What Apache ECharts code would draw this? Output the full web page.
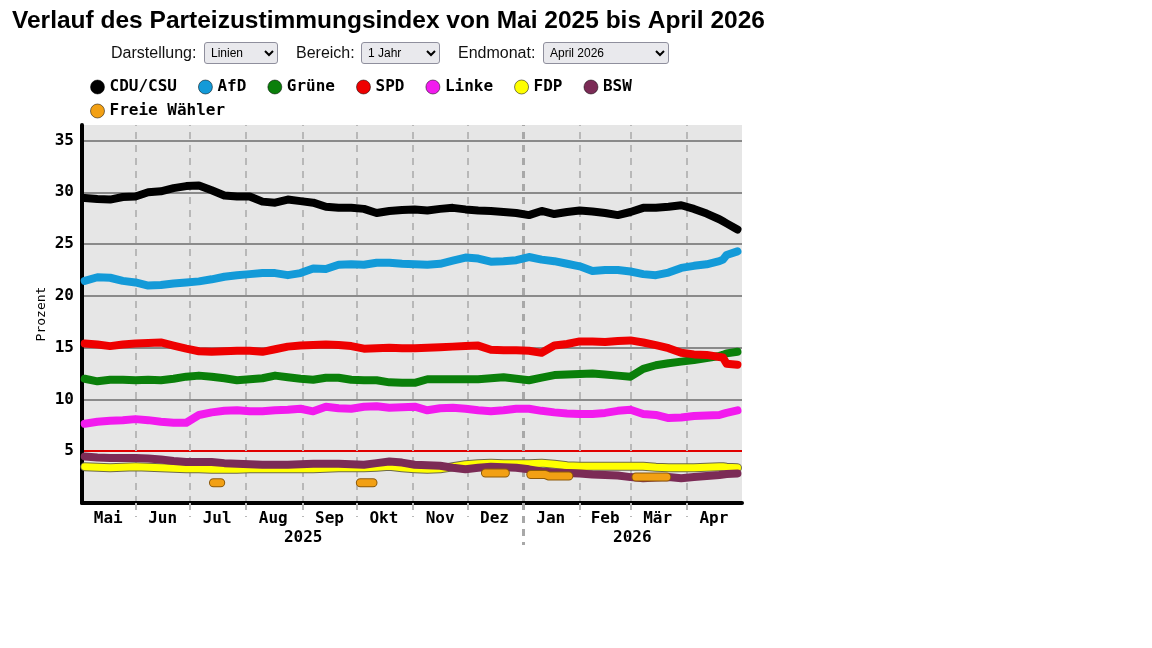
<!DOCTYPE html>
<html>
<head>
<meta charset="utf-8">
<script src="https://cdn.jsdelivr.net/npm/echarts@6/dist/echarts.min.js"></script>
<style>
  html, body { margin: 0; padding: 0; background: #fff; }
  #chart { position: absolute; left: 0; top: 0; width: 1152px; height: 648px; }
  .ctrl { position: absolute; top: 44px; height: 22px; line-height: 22px; z-index: 2;
          font: 16px 'Liberation Sans', Arial, sans-serif; color: #111; }
  select.ctrl { top: 42px; font: 12px 'Liberation Sans', Arial, sans-serif; padding: 0 2px; box-sizing: border-box;
                border: 1px solid #8f8f9d; border-radius: 3px; background: #e9e9ed; color: #000; }
</style>
</head>
<body>
<div id="chart"></div>
<span class="ctrl" style="left:111px">Darstellung:</span>
<select class="ctrl" style="left:204px;width:74px"><option>Linien</option></select>
<span class="ctrl" style="left:296px">Bereich:</span>
<select class="ctrl" style="left:361px;width:79px"><option>1 Jahr</option></select>
<span class="ctrl" style="left:458px">Endmonat:</span>
<select class="ctrl" style="left:543px;width:126px"><option>April 2026</option></select>
<script>
const dates = [
  '2025-05-04', '2025-05-11', '2025-05-18', '2025-05-25', '2025-06-01', '2025-06-08', '2025-06-15',
  '2025-06-22', '2025-06-29', '2025-07-06', '2025-07-13', '2025-07-20', '2025-07-27', '2025-08-03',
  '2025-08-10', '2025-08-17', '2025-08-24', '2025-08-31', '2025-09-07', '2025-09-14', '2025-09-21',
  '2025-09-28', '2025-10-05', '2025-10-12', '2025-10-19', '2025-10-26', '2025-11-02', '2025-11-09',
  '2025-11-16', '2025-11-23', '2025-11-30', '2025-12-07', '2025-12-14', '2025-12-21', '2025-12-28',
  '2026-01-04', '2026-01-11', '2026-01-18', '2026-01-25', '2026-02-01', '2026-02-08', '2026-02-15',
  '2026-02-22', '2026-03-01', '2026-03-08', '2026-03-15', '2026-03-22', '2026-03-29', '2026-04-05',
  '2026-04-12', '2026-04-19', '2026-04-21', '2026-04-23', '2026-04-29'
]

const cduCsu = [29.45, 29.35, 29.3, 29.55, 29.6, 30.0, 30.1, 30.4, 30.6, 30.65, 30.2, 29.7, 29.6, 29.6,
  29.1, 29.0, 29.3, 29.15, 29.0, 28.6, 28.5, 28.5, 28.4, 28.0, 28.2, 28.3, 28.35, 28.25, 28.4, 28.5,
  28.35, 28.25, 28.2, 28.1, 28.0, 27.8, 28.2, 27.9, 28.1, 28.25, 28.15, 28.0, 27.8, 28.1, 28.5, 28.5,
  28.6, 28.75, 28.4, 27.95, 27.4, 27.2, 27.0, 26.4]
const afd = [21.45, 21.8, 21.75, 21.45, 21.3, 21.0, 21.05, 21.2, 21.3, 21.4, 21.6, 21.85, 22.0, 22.1,
  22.2, 22.2, 22.0, 22.2, 22.65, 22.6, 23.0, 23.05, 23.0, 23.2, 23.2, 23.1, 23.05, 23.0, 23.1, 23.4,
  23.7, 23.6, 23.3, 23.35, 23.45, 23.75, 23.5, 23.35, 23.1, 22.85, 22.4, 22.5, 22.5, 22.35, 22.1, 22.0,
  22.25, 22.7, 22.9, 23.05, 23.35, 23.5, 23.95, 24.3]
const gruene = [12.0, 11.75, 11.9, 11.9, 11.85, 11.9, 11.85, 12.0, 12.2, 12.3, 12.2, 12.05, 11.85, 11.95,
  12.05, 12.3, 12.15, 12.0, 11.9, 12.1, 12.1, 11.9, 11.85, 11.85, 11.65, 11.6, 11.6, 11.95, 11.95, 11.95,
  11.95, 11.95, 12.05, 12.15, 12.0, 11.85, 12.1, 12.35, 12.4, 12.45, 12.5, 12.4, 12.3, 12.2, 12.95, 13.3,
  13.5, 13.65, 13.8, 14.0, 14.2, 14.3, 14.45, 14.6]
const spd = [15.4, 15.3, 15.15, 15.3, 15.4, 15.45, 15.5, 15.2, 14.9, 14.65, 14.6, 14.65, 14.7, 14.7,
  14.6, 14.85, 15.1, 15.2, 15.25, 15.3, 15.25, 15.15, 14.9, 14.95, 15.0, 14.95, 14.95, 15.0, 15.05, 15.1,
  15.15, 15.2, 14.8, 14.75, 14.75, 14.7, 14.5, 15.2, 15.35, 15.6, 15.6, 15.55, 15.65, 15.7, 15.5, 15.25,
  14.95, 14.5, 14.35, 14.3, 14.1, 14.05, 13.45, 13.35]
const linke = [7.65, 7.85, 7.95, 8.0, 8.1, 8.0, 7.85, 7.75, 7.75, 8.5, 8.75, 8.9, 8.95, 8.85,
  8.85, 8.95, 9.0, 9.1, 8.85, 9.3, 9.15, 9.1, 9.3, 9.35, 9.2, 9.25, 9.3, 8.95, 9.15, 9.2,
  9.1, 8.95, 8.85, 8.95, 9.1, 9.1, 8.9, 8.75, 8.65, 8.6, 8.6, 8.7, 8.9, 9.0, 8.6, 8.5,
  8.2, 8.25, 8.4, 8.45, 8.5, 8.6, 8.7, 8.95]
const fdp = [3.5, 3.45, 3.4, 3.45, 3.5, 3.45, 3.4, 3.35, 3.3, 3.3, 3.25, 3.25, 3.25, 3.3,
  3.3, 3.3, 3.3, 3.3, 3.3, 3.35, 3.4, 3.4, 3.4, 3.45, 3.55, 3.4, 3.3, 3.25, 3.3, 3.5,
  3.7, 3.8, 3.85, 3.8, 3.8, 3.8, 3.85, 3.75, 3.6, 3.55, 3.55, 3.55, 3.55, 3.55, 3.55, 3.45,
  3.4, 3.4, 3.4, 3.45, 3.5, 3.5, 3.45, 3.4]
const bsw = [4.5, 4.4, 4.35, 4.35, 4.35, 4.3, 4.2, 4.05, 3.95, 3.95, 3.95, 3.85, 3.8, 3.75,
  3.7, 3.7, 3.7, 3.75, 3.8, 3.8, 3.8, 3.75, 3.7, 3.85, 4.0, 3.9, 3.7, 3.65, 3.6, 3.4,
  3.25, 3.4, 3.5, 3.45, 3.4, 3.25, 3.05, 2.95, 2.9, 2.85, 2.75, 2.7, 2.65, 2.5, 2.4, 2.45,
  2.5, 2.4, 2.5, 2.6, 2.7, 2.75, 2.8, 2.85]

// Freie Wähler nur zeitweise erfasst (null = Lücke)
const fwDates = ['2025-07-14', '2025-07-18', '2025-07-19', '2025-10-03', '2025-10-10', '2025-10-11',
  '2025-12-11', '2025-12-22', '2025-12-23', '2026-01-05', '2026-01-13', '2026-01-15', '2026-01-26',
  '2026-01-27', '2026-03-04', '2026-03-21']
const fwValues = [1.95, 1.95, null, 1.95, 1.95, null, 2.9, 2.9, null, 2.75, 2.75, 2.6, 2.6, null, 2.5, 2.5]

// Achsen
const axisStart = '2025-05-02 12'
const axisEnd = '2026-05-01 12'
const monthStarts = ['2025-06-01', '2025-07-01', '2025-08-01', '2025-09-01', '2025-10-01', '2025-11-01',
  '2025-12-01', '2026-02-01', '2026-03-01', '2026-04-01']
const yearBreak = '2026-01-01'
const monthMids = ['2025-05-17', '2025-06-16', '2025-07-16', '2025-08-16', '2025-09-16', '2025-10-16',
  '2025-11-16', '2025-12-16', '2026-01-16', '2026-02-15', '2026-03-16', '2026-04-16']
const monthNames = ['Mai', 'Jun', 'Jul', 'Aug', 'Sep', 'Okt', 'Nov', 'Dez', 'Jan', 'Feb', 'Mär', 'Apr']
const yearMarks = ['2025-09-01 12', '2026-03-02']
const yearNames = ['2025', '2026']
const yGrid = [10, 15, 20, 25, 30, 35]
const threshold = 5

const mono = 'DejaVu Sans Mono'

function ts (s) {
  let p = s.split(/[- ]/).map(Number)
  return new Date(p[0], p[1] - 1, p[2], p[3] || 0).getTime()
}

function labelFor (list, names) {
  return function (v) {
    for (let i = 0; i < list.length; i++) {
      if (Math.abs(ts(list[i]) - v) < 3600000) return names[i]
    }
    return ''
  }
}

function partyLine (name, vals, color, width) {
  return {
    name: name,
    type: 'line',
    data: dates.map((d, i) => [ts(d), vals[i]]),
    showSymbol: false,
    symbol: 'none',
    color: color,
    silent: true,
    lineStyle: { width: width, color: color, cap: 'round', join: 'round' }
  }
}

let chart = echarts.init(document.getElementById('chart'))

let cdu = partyLine('CDU/CSU', cduCsu, '#000000', 8)
cdu.markLine = {
  silent: true,
  symbol: 'none',
  z: 1,
  animation: false,
  label: { show: false },
  data: [].concat(
    yGrid.map(v => ({ yAxis: v, lineStyle: { color: '#8a8a8a', width: 2, type: 'solid' } })),
    [{ yAxis: threshold, lineStyle: { color: '#e00000', width: 2, type: 'solid' } }],
    monthStarts.map(d => ({ xAxis: ts(d), lineStyle: { color: '#b8b8b8', width: 2, type: [7, 6] } })),
    [{ xAxis: ts(yearBreak), lineStyle: { color: '#a8a8a8', width: 3, type: [7, 6] } }]
  )
}

let fdpRand = partyLine('FDP-Rand', fdp, '#6e6a4a', 9)
let fwRand = {
  name: 'FW-Rand',
  type: 'line',
  data: fwDates.map((d, i) => [ts(d), fwValues[i]]),
  showSymbol: false,
  symbol: 'none',
  silent: true,
  color: '#8d5a0a',
  lineStyle: { width: 9, color: '#8d5a0a', cap: 'round', join: 'round' }
}
let fw = Object.assign({}, fwRand, {
  name: 'Freie Wähler',
  color: '#f2a014',
  lineStyle: { width: 7, color: '#f2a014', cap: 'round', join: 'round' }
})

let legendText = { fontFamily: mono, fontWeight: 'bold', fontSize: 16, color: '#000' }

// x-Achse als Zahlenachse über Zeitstempel
let xBase = {
  type: 'value',
  min: ts(axisStart),
  max: ts(axisEnd),
  position: 'bottom',
  z: 3,
  splitLine: { show: false }
}

let option = {
  animation: false,
  title: {
    text: 'Verlauf des Parteizustimmungsindex von Mai 2025 bis April 2026',
    left: 12,
    top: 9,
    padding: 0,
    textStyle: { fontFamily: 'Liberation Sans', fontWeight: 'bold', fontSize: 24.5, color: '#000' }
  },
  legend: [
    {
      data: ['CDU/CSU', 'AfD', 'Grüne', 'SPD', 'Linke', 'FDP', 'BSW'],
      left: 85,
      top: 74,
      icon: 'circle',
      itemWidth: 14,
      itemHeight: 14,
      itemGap: 21,
      selectedMode: false,
      itemStyle: { borderColor: 'rgba(0,0,0,0.5)', borderWidth: 1 },
      textStyle: legendText
    },
    {
      data: ['Freie Wähler'],
      left: 85,
      top: 98,
      icon: 'circle',
      itemWidth: 14,
      itemHeight: 14,
      selectedMode: false,
      itemStyle: { borderColor: 'rgba(0,0,0,0.5)', borderWidth: 1 },
      textStyle: legendText
    }
  ],
  grid: {
    left: 82,
    right: 410,
    top: 125,
    bottom: 145,
    show: true,
    backgroundColor: '#e6e6e6',
    borderWidth: 0
  },
  xAxis: [
    Object.assign({}, xBase, {
      axisLine: { show: true, onZero: false, lineStyle: { color: '#000', width: 4 } },
      axisTick: {
        show: true,
        customValues: monthStarts.map(ts),
        length: 14,
        lineStyle: { color: '#b8b8b8', width: 2, type: [7, 6] }
      },
      axisLabel: {
        customValues: monthMids.map(ts),
        formatter: labelFor(monthMids, monthNames),
        fontFamily: mono,
        fontWeight: 'bold',
        fontSize: 16,
        color: '#000',
        margin: 8
      }
    }),
    Object.assign({}, xBase, {
      axisLine: { show: false, onZero: false },
      axisTick: {
        show: true,
        customValues: [ts(yearBreak)],
        length: 42,
        lineStyle: { color: '#a8a8a8', width: 3, type: [7, 6] }
      },
      axisLabel: {
        customValues: yearMarks.map(ts),
        formatter: labelFor(yearMarks, yearNames),
        fontFamily: mono,
        fontWeight: 'bold',
        fontSize: 16,
        color: '#000',
        margin: 27
      }
    })
  ],
  yAxis: {
    type: 'value',
    min: 0,
    max: 36.5,
    interval: 5,
    z: 3,
    name: 'Prozent',
    nameLocation: 'middle',
    nameGap: 34,
    nameMoveOverlap: false,
    nameTextStyle: { fontFamily: mono, fontSize: 13, color: '#000' },
    axisLine: { show: true, lineStyle: { color: '#000', width: 4 } },
    axisTick: { show: false },
    splitLine: { show: false },
    axisLabel: {
      showMinLabel: false,
      showMaxLabel: false,
      fontFamily: mono,
      fontWeight: 'bold',
      fontSize: 16,
      color: '#000',
      margin: 8
    }
  },
  series: [
    cdu,
    partyLine('AfD', afd, '#139ad8', 8),
    partyLine('Grüne', gruene, '#0a7f0a', 8),
    partyLine('SPD', spd, '#ee0000', 8),
    partyLine('Linke', linke, '#f21bee', 8),
    fdpRand,
    partyLine('FDP', fdp, '#ffff00', 7),
    partyLine('BSW', bsw, '#7b2b56', 8),
    fwRand,
    fw
  ]
}

chart.setOption(option)
</script>
</body>
</html>
